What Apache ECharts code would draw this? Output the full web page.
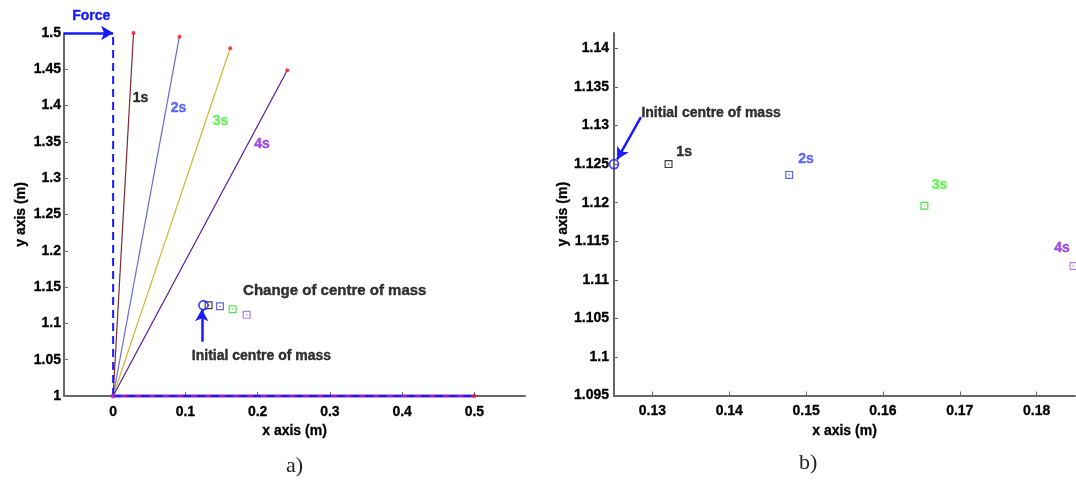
<!DOCTYPE html>
<html>
<head>
<meta charset="utf-8">
<script src="https://cdn.jsdelivr.net/npm/echarts@6/dist/echarts.min.js"></script>
<style>
  html, body { margin: 0; padding: 0; background: #fff; }
  #chart { width: 1076px; height: 481px; }
</style>
</head>
<body>
<div id="chart"></div>
<script>
// rod tips after 1s..4s (red dots), left plot
const timeLabels = ['1s', '2s', '3s', '4s']
const tipX = [0.0282, 0.0917, 0.162, 0.241]
const tipY = [1.5, 1.495, 1.479, 1.4486]
// initial rod on the floor
const floorX = [0, 0.5]
const floorY = [1, 1]
// centre of mass
const initX = 0.125
const initY = 1.125
const comX = [0.1321, 0.1478, 0.1654, 0.1848]
const comY = [1.125, 1.1236, 1.1196, 1.1118]
// tick labels
const leftXTicks = [0, 0.1, 0.2, 0.3, 0.4, 0.5]
const rightXTicks = [0.13, 0.14, 0.15, 0.16, 0.17, 0.18]
const rightYTicks = [1.095, 1.1, 1.105, 1.11, 1.115, 1.12, 1.125, 1.13, 1.135, 1.14]

const rodColors = ['#7a2a30', '#6a6ad0', '#d0b838', '#5a1a98']
const markColors = ['#111111', '#3040d8', '#22dd22', '#a060e8']
const textColors = ['#000000', '#3a4af5', '#50ee40', '#8a22e0']
const FONT = '"Liberation Sans", Arial, sans-serif'

const chart = echarts.init(document.getElementById('chart'))

// hollow square with a dot in the middle
const squareDot = 'path://M0,0H10V10H0Z M1.5,1.5V8.5H8.5V1.5Z M4.2,4.2H5.8V5.8H4.2Z'

function axisBase() {
  return {
    type: 'value',
    axisLine: { onZero: false, lineStyle: { color: '#666', width: 2 } },
    axisTick: { inside: true, length: 4, lineStyle: { color: '#666', width: 1 } },
    axisLabel: {
      color: '#000', fontWeight: 'bold', fontSize: 14, fontFamily: FONT,
      textBorderColor: '#000', textBorderWidth: 0.3,
    },
    splitLine: { show: false },
    nameTextStyle: {
      color: '#000', fontWeight: 'bold', fontSize: 14, fontFamily: FONT,
      textBorderColor: '#000', textBorderWidth: 0.3,
    },
  }
}

function fmt(v) {
  return String(+v.toFixed(4))
}

function labelSeries(xi, items) {
  // text annotations placed in data coordinates
  return {
    type: 'scatter',
    xAxisIndex: xi,
    yAxisIndex: xi,
    symbolSize: 0,
    clip: false,
    silent: true,
    z: 5,
    data: items.map(it => ({
      value: [it.x, it.y],
      label: {
        show: true,
        formatter: it.text,
        position: it.left ? 'right' : 'inside',
        distance: 0,
        color: it.color,
        textBorderColor: it.color,
        textBorderWidth: 0.4,
        fontWeight: 'bold',
        fontSize: it.size || 14,
        fontFamily: FONT,
      },
    })),
  }
}

const series = []

// left: the four rod positions
timeLabels.forEach((t, i) => {
  series.push({
    type: 'line',
    xAxisIndex: 0,
    yAxisIndex: 0,
    data: [[0, 1], [tipX[i], tipY[i]]],
    symbol: 'none',
    clip: false,
    lineStyle: { color: rodColors[i], width: 1.2 },
    z: 2,
  })
})
// rod lying on the floor
series.push({
  type: 'line',
  xAxisIndex: 0,
  yAxisIndex: 0,
  data: floorX.map((x, i) => [x, floorY[i]]),
  symbol: 'none',
  clip: false,
  lineStyle: { color: '#8a2bc0', width: 3 },
  z: 3,
})
series.push({
  type: 'line',
  xAxisIndex: 0,
  yAxisIndex: 0,
  data: floorX.map((x, i) => [x, floorY[i]]),
  symbol: 'none',
  clip: false,
  lineStyle: { color: '#1a1aff', width: 2, type: [8, 6] },
  z: 4,
})
// force: dashed vertical line and arrow
series.push({
  type: 'line',
  xAxisIndex: 0,
  yAxisIndex: 0,
  data: [[0, 1], [0, 1.5]],
  symbol: 'none',
  clip: false,
  lineStyle: { color: '#1a1aff', width: 2, type: [8, 5] },
  z: 4,
  markLine: {
    silent: true,
    symbol: ['none', 'arrow'],
    symbolSize: [11, 12],
    label: { show: false },
    lineStyle: { color: '#1a1aff', width: 2.5, type: 'solid' },
    data: [[{ coord: [-0.068, 1.5] }, { coord: [0, 1.5] }]],
  },
})
// red mass dots
series.push({
  type: 'scatter',
  xAxisIndex: 0,
  yAxisIndex: 0,
  symbolSize: 4,
  clip: false,
  itemStyle: { color: '#ff1010' },
  z: 6,
  data: tipX.map((x, i) => [x, tipY[i]]).concat([[floorX[1], floorY[1]]]),
})
series.push({
  type: 'scatter',
  xAxisIndex: 0,
  yAxisIndex: 0,
  symbolSize: 5,
  clip: false,
  itemStyle: { color: '#b030d0' },
  z: 6,
  data: [[floorX[0], floorY[0]]],
})

// centre of mass markers on both plots
;[0, 1].forEach(k => {
  series.push({
    type: 'scatter',
    xAxisIndex: k,
    yAxisIndex: k,
    symbol: squareDot,
    symbolSize: 8,
    clip: false,
    z: 6,
    data: comX.map((x, i) => ({ value: [x, comY[i]], itemStyle: { color: markColors[i] } })),
  })
  series.push({
    type: 'scatter',
    xAxisIndex: k,
    yAxisIndex: k,
    symbol: 'circle',
    symbolSize: 9,
    clip: false,
    z: 7,
    itemStyle: { color: 'rgba(0,0,0,0)', borderColor: '#1a1aff', borderWidth: 1.8 },
    data: [[initX, initY]],
    markLine: {
      silent: true,
      symbol: ['none', 'arrow'],
      symbolSize: [10, 12],
      label: { show: false },
      lineStyle: { color: '#1a1aff', width: 2.5, type: 'solid' },
      data: k === 0
        ? [[{ coord: [0.1227, 1.0748] }, { coord: [0.1227, 1.1195] }]]
        : [[{ coord: [0.1285, 1.1311] }, { coord: [0.1254, 1.1256] }]],
    },
  })
})

// text on left plot
series.push(labelSeries(0, [
  { x: 0.038, y: 1.4109, text: timeLabels[0], color: textColors[0] },
  { x: 0.0906, y: 1.3967, text: timeLabels[1], color: textColors[1] },
  { x: 0.1487, y: 1.3792, text: timeLabels[2], color: textColors[2] },
  { x: 0.2061, y: 1.3471, text: timeLabels[3], color: textColors[3] },
  { x: 0.1798, y: 1.1446, text: 'Change of centre of mass', color: '#000', left: true, size: 15 },
  { x: 0.1089, y: 1.0555, text: 'Initial centre of mass', color: '#000', left: true },
]))
// text on right plot
series.push(labelSeries(1, [
  { x: 0.13413, y: 1.1266, text: timeLabels[0], color: textColors[0] },
  { x: 0.15, y: 1.1256, text: timeLabels[1], color: textColors[1] },
  { x: 0.16738, y: 1.1223, text: timeLabels[2], color: textColors[2] },
  { x: 0.18331, y: 1.11408, text: timeLabels[3], color: textColors[3] },
  { x: 0.12857, y: 1.1316, text: 'Initial centre of mass', color: '#000', left: true },
]))

const option = {
  animation: false,
  backgroundColor: '#fff',
  grid: [
    { left: 64, top: 33, width: 461, height: 363 },
    { left: 614, top: 33, width: 461, height: 362.5 },
  ],
  xAxis: [
    Object.assign(axisBase(), {
      gridIndex: 0,
      min: -0.068,
      max: 0.57,
      name: 'x axis (m)',
      nameLocation: 'middle',
      nameGap: 25,
    }),
    Object.assign(axisBase(), {
      gridIndex: 1,
      min: 0.125,
      max: 0.185,
      name: 'x axis (m)',
      nameLocation: 'middle',
      nameGap: 25,
    }),
  ],
  yAxis: [
    Object.assign(axisBase(), {
      gridIndex: 0,
      min: 1,
      max: 1.5,
      interval: 0.05,
      name: 'y axis (m)',
      nameLocation: 'middle',
      nameGap: 36,
    }),
    Object.assign(axisBase(), {
      gridIndex: 1,
      min: 1.095,
      max: 1.142,
      name: 'y axis (m)',
      nameLocation: 'middle',
      nameGap: 44,
    }),
  ],
  graphic: [
    {
      type: 'text', left: 72, top: 9,
      style: {
        text: 'Force', fill: '#1a1aff', font: 'bold 14px ' + FONT,
        stroke: '#1a1aff', lineWidth: 0.4,
      },
    },
    {
      type: 'text', left: 286, top: 455,
      style: { text: 'a)', fill: '#222', font: '22px "Liberation Serif", serif' },
    },
    {
      type: 'text', left: 799, top: 452,
      style: { text: 'b)', fill: '#222', font: '22px "Liberation Serif", serif' },
    },
  ],
  series: series,
}

// custom tick positions where the axis does not start on a tick
option.xAxis[0].axisTick.customValues = leftXTicks
option.xAxis[0].axisLabel.customValues = leftXTicks
option.xAxis[1].axisTick.customValues = rightXTicks
option.xAxis[1].axisLabel.customValues = rightXTicks
option.yAxis[1].axisTick.customValues = rightYTicks
option.yAxis[1].axisLabel.customValues = rightYTicks
option.xAxis.forEach(a => { a.axisLabel.formatter = fmt; a.axisLabel.margin = 9 })
option.yAxis.forEach(a => { a.axisLabel.formatter = fmt; a.axisLabel.margin = 5 })
option.yAxis[0].axisLabel.margin = 3

chart.setOption(option)
</script>
</body>
</html>
